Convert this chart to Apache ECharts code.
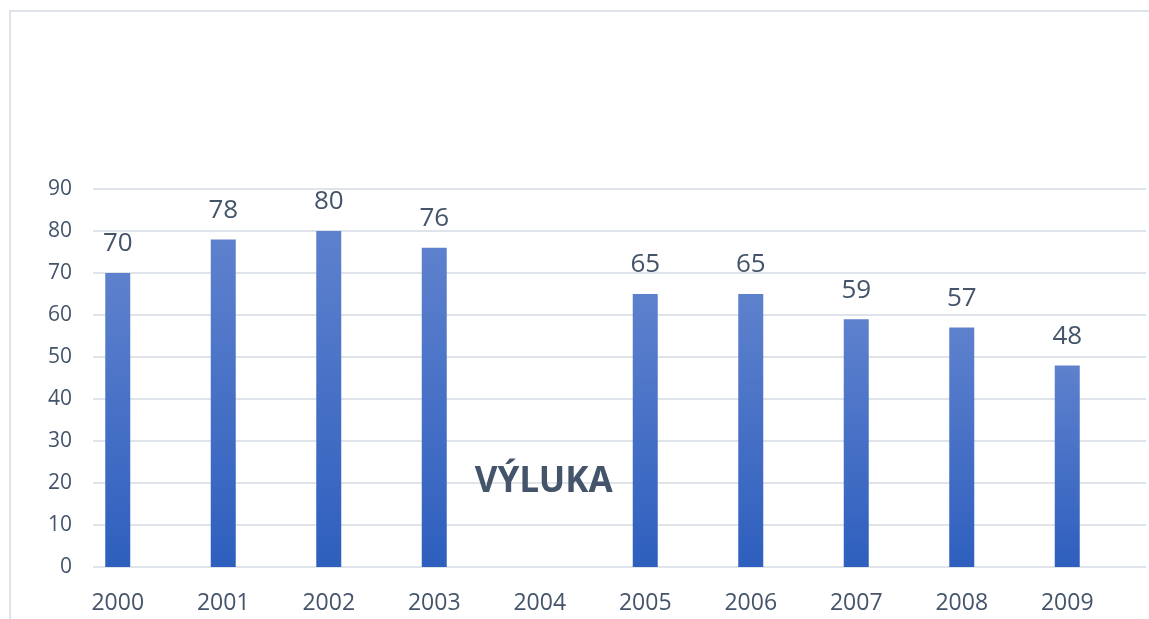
<!DOCTYPE html>
<html>
<head>
<meta charset="utf-8">
<script src="https://cdn.jsdelivr.net/npm/echarts@6/dist/echarts.min.js"></script>
<style>
  html, body { margin: 0; padding: 0; background: #fff; }
  #chart { width: 1149px; height: 619px; }
</style>
</head>
<body>
<div id="chart"></div>
<script>
  // categories / values
  var years = ['2000', '2001', '2002', '2003', '2004', '2005', '2006', '2007', '2008', '2009'];
  var values = [70, 78, 80, 76, null, 65, 65, 59, 57, 48];
  var yTicks = [0, 10, 20, 30, 40, 50, 60, 70, 80, 90];
  var gapYear = '2004';
  var gapText = 'VÝLUKA';

  var textColor = '#44546a';
  var font = '"Open Sans", "Noto Sans", sans-serif';

  var myChart = echarts.init(document.getElementById('chart'));

  var frame = {
    type: 'rect',
    shape: { x: 10, y: 11, width: 1200, height: 700 },
    style: { fill: 'none', stroke: '#dfe3ea', lineWidth: 2 },
    silent: true
  };

  myChart.setOption({
    animation: false,
    backgroundColor: '#fff',
    grid: [
      // bars
      { left: 65, right: 29, top: 189, bottom: 52 },
      // gridlines + y labels
      { left: 93, right: 3, top: 189, bottom: 52 }
    ],
    xAxis: [
      {
        type: 'category',
        gridIndex: 0,
        data: years,
        axisLine: { show: false },
        axisTick: { show: false },
        axisLabel: { color: textColor, fontSize: 23, fontFamily: font, margin: 25 }
      },
      {
        type: 'value',
        gridIndex: 1,
        show: false
      }
    ],
    yAxis: [
      {
        type: 'value',
        gridIndex: 0,
        min: 0, max: 90, interval: 10,
        show: false
      },
      {
        type: 'value',
        gridIndex: 1,
        min: yTicks[0], max: yTicks[yTicks.length - 1], interval: 10,
        axisLine: { show: false },
        axisTick: { show: false },
        axisLabel: { color: textColor, fontSize: 21, fontFamily: font, margin: 21 },
        splitLine: { lineStyle: { color: '#dfe3ea', width: 2 } }
      }
    ],
    series: [
      {
        type: 'bar',
        xAxisIndex: 0,
        yAxisIndex: 0,
        data: values,
        barWidth: 25,
        itemStyle: {
          color: new echarts.graphic.LinearGradient(0, 0, 0, 1, [
            { offset: 0, color: '#5e81cd' },
            { offset: 1, color: '#2e5fbe' }
          ])
        },
        label: {
          show: true,
          position: 'top',
          distance: 16,
          color: textColor,
          fontSize: 26,
          fontFamily: font
        }
      }
    ],
    graphic: [frame]
  });

  // gap label placed at the 2004 category
  var pos = myChart.convertToPixel({ xAxisIndex: 0, yAxisIndex: 0 }, [gapYear, 20.3]);
  myChart.setOption({
    graphic: [
      frame,
      {
        type: 'text',
        z: 100,
        x: pos[0] + 4,
        y: pos[1],
        style: {
          text: gapText,
          fill: textColor,
          fontFamily: '"Noto Sans", "DejaVu Sans", sans-serif',
          fontWeight: 'bold',
          fontSize: 35,
          align: 'center',
          verticalAlign: 'middle'
        }
      }
    ]
  });
</script>
</body>
</html>
